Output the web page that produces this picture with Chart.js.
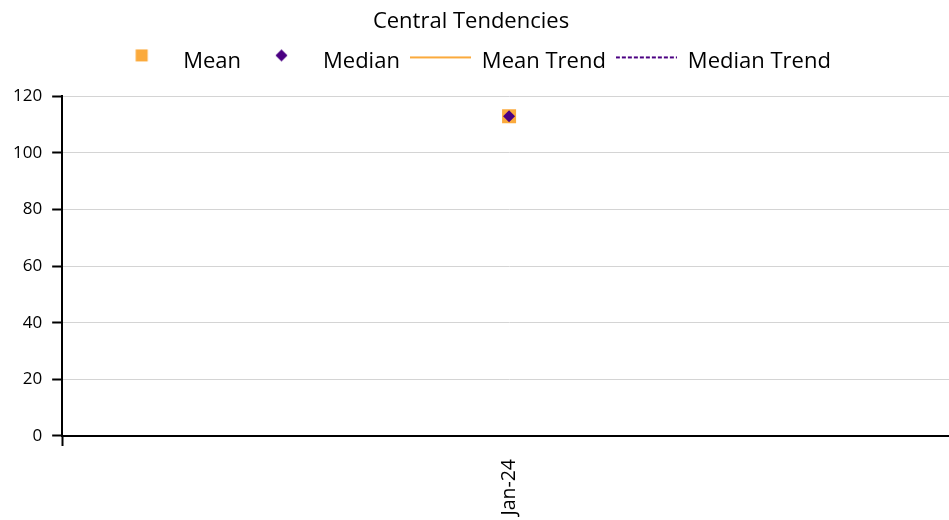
<!DOCTYPE html>
<html>
<head>
<meta charset="utf-8">
<script src="https://cdn.jsdelivr.net/npm/chart.js@4.4.1/dist/chart.umd.min.js"></script>
<style>
  html, body { margin: 0; padding: 0; background: #fff; overflow: hidden; }
  /* a área do gráfico passa um pouco da borda direita, como no original */
  #wrap { width: 956px; height: 520px; }
</style>
</head>
<body>
<div id="wrap"><canvas id="grafico"></canvas></div>
<script>
// dados
const categorias = ['Jan-24'];
const mediaValores = [113];
const medianaValores = [113];
const mediaTendencia = [113];
const medianaTendencia = [113];
const ticksY = [0, 20, 40, 60, 80, 100, 120];

const laranja = '#FBAA3C';
const roxo = '#4B0082';

// imagens para os marcadores da legenda
function marcadorLegenda(tipo, cor) {
  const c = document.createElement('canvas');
  c.width = 61;
  c.height = 26;
  const ctx = c.getContext('2d');
  ctx.fillStyle = cor;
  ctx.strokeStyle = cor;
  const cy = 7;
  if (tipo === 'quadrado') {
    ctx.fillRect(24.5, cy - 6, 12, 12);
  } else if (tipo === 'losango') {
    ctx.beginPath();
    ctx.moveTo(30.5, cy - 6);
    ctx.lineTo(36.5, cy);
    ctx.lineTo(30.5, cy + 6);
    ctx.lineTo(24.5, cy);
    ctx.closePath();
    ctx.fill();
  } else {
    ctx.lineWidth = 2;
    if (tipo === 'tracejado') ctx.setLineDash([4, 2]);
    ctx.beginPath();
    ctx.moveTo(0, cy + 2);
    ctx.lineTo(61, cy + 2);
    ctx.stroke();
  }
  return c;
}

const estilosLegenda = [
  marcadorLegenda('quadrado', laranja),
  marcadorLegenda('losango', roxo),
  marcadorLegenda('linha', laranja),
  marcadorLegenda('tracejado', roxo)
];

// espaço extra entre a legenda e o gráfico, e deslocamento do título/legenda
const ajustesTopo = {
  id: 'ajustesTopo',
  beforeInit(chart) {
    const fitOriginal = chart.legend.fit;
    chart.legend.fit = function () {
      fitOriginal.bind(chart.legend)();
      this.height += 14;
    };
    [chart.legend, chart.titleBlock].forEach((bloco) => {
      const drawOriginal = bloco.draw;
      bloco.draw = function (area) {
        const ctx = chart.ctx;
        ctx.save();
        ctx.translate(-8.5, 0);
        drawOriginal.call(bloco, area);
        ctx.restore();
      };
    });
  }
};

Chart.defaults.font.family = '"Open Sans", "Noto Sans", sans-serif';
Chart.defaults.color = '#000';

new Chart(document.getElementById('grafico'), {
  type: 'line',
  data: {
    labels: categorias,
    datasets: [
      {
        label: 'Mean',
        data: mediaValores,
        order: 1,
        showLine: false,
        pointStyle: 'rect',
        pointRadius: 9.9,
        pointHoverRadius: 9.9,
        backgroundColor: laranja,
        borderColor: laranja,
        borderWidth: 0
      },
      {
        label: 'Median',
        data: medianaValores,
        order: 0,
        showLine: false,
        pointStyle: 'rectRot',
        pointRadius: 6,
        pointHoverRadius: 6,
        backgroundColor: roxo,
        borderColor: roxo,
        borderWidth: 0
      },
      {
        label: 'Mean Trend',
        data: mediaTendencia,
        order: 2,
        borderColor: laranja,
        backgroundColor: laranja,
        borderWidth: 2,
        pointRadius: 0
      },
      {
        label: 'Median Trend',
        data: medianaTendencia,
        order: 3,
        borderColor: roxo,
        backgroundColor: roxo,
        borderWidth: 2,
        borderDash: [4, 2],
        pointRadius: 0
      }
    ]
  },
  options: {
    responsive: true,
    maintainAspectRatio: false,
    animation: false,
    layout: {
      autoPadding: false,
      padding: { left: 3, right: 0, top: 9, bottom: -8.6 }
    },
    plugins: {
      title: {
        display: true,
        text: 'Central Tendencies',
        font: { size: 22, weight: 'normal' },
        color: '#000',
        padding: { top: 0, bottom: 5 }
      },
      legend: {
        display: true,
        position: 'top',
        labels: {
          usePointStyle: true,
          pointStyleWidth: 61,
          boxHeight: 16,
          padding: 10,
          font: { size: 22 },
          color: '#000',
          generateLabels: (chart) => {
            const itens = Chart.defaults.plugins.legend.labels.generateLabels(chart);
            itens.sort((a, b) => a.datasetIndex - b.datasetIndex);
            itens.forEach((item) => { item.pointStyle = estilosLegenda[item.datasetIndex]; });
            return itens;
          }
        }
      },
      tooltip: { enabled: false }
    },
    scales: {
      x: {
        offset: true,
        border: { display: true, color: '#000', width: 2 },
        grid: {
          offset: true,
          drawOnChartArea: false,
          drawTicks: true,
          tickLength: 10,
          tickColor: '#000',
          tickWidth: 2
        },
        ticks: {
          minRotation: 90,
          maxRotation: 90,
          padding: 13,
          font: { size: 19.5 },
          color: '#000'
        }
      },
      y: {
        min: 0,
        max: 120,
        afterBuildTicks: (eixo) => { eixo.ticks = ticksY.map(v => ({ value: v })); },
        border: { display: true, color: '#000', width: 2 },
        grid: {
          color: '#D4D4D4',
          lineWidth: 1,
          tickLength: 10,
          tickColor: '#000',
          tickWidth: 2
        },
        ticks: {
          padding: 10,
          font: { size: 17 },
          color: '#000'
        }
      }
    }
  },
  plugins: [ajustesTopo]
});
</script>
</body>
</html>
